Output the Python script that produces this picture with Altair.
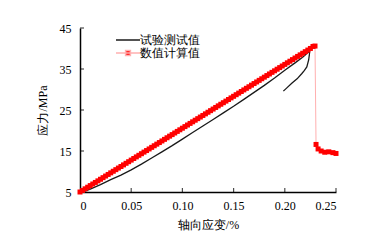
import altair as alt
import pandas as pd

# Experimental (试验测试值) curve: strain (%) and stress (MPa), in drawing order
exp_strain = [0.003, 0.010, 0.020, 0.030, 0.040, 0.050, 0.060, 0.070, 0.080, 0.090,
              0.100, 0.110, 0.120, 0.130, 0.140, 0.150, 0.160, 0.170, 0.180, 0.190,
              0.200, 0.210, 0.218, 0.222, 0.2243, 0.2240, 0.2233, 0.2215, 0.2190,
              0.2167, 0.2120, 0.2068, 0.2020, 0.1986]
exp_stress = [5.0, 5.7, 6.8, 8.0, 9.1, 10.4, 11.8, 13.3, 14.8, 16.3,
              17.9, 19.5, 21.1, 22.7, 24.3, 25.9, 27.6, 29.3, 31.0, 32.8,
              34.7, 36.5, 38.0, 38.9, 39.4, 38.5, 37.2, 35.5, 34.6,
              33.9, 32.6, 31.5, 30.4, 29.6]

# Numerical (数值计算值) series
num_strain = [0.0000, 0.0025, 0.0050, 0.0075, 0.0100, 0.0125, 0.0150, 0.0175, 0.0200, 0.0225,
              0.0250, 0.0275, 0.0300, 0.0325, 0.0350, 0.0375, 0.0400, 0.0425, 0.0450, 0.0475,
              0.0500, 0.0525, 0.0550, 0.0575, 0.0600, 0.0625, 0.0650, 0.0675, 0.0700, 0.0725,
              0.0750, 0.0775, 0.0800, 0.0825, 0.0850, 0.0875, 0.0900, 0.0925, 0.0950, 0.0975,
              0.1000, 0.1025, 0.1050, 0.1075, 0.1100, 0.1125, 0.1150, 0.1175, 0.1200, 0.1225,
              0.1250, 0.1275, 0.1300, 0.1325, 0.1350, 0.1375, 0.1400, 0.1425, 0.1450, 0.1475,
              0.1500, 0.1525, 0.1550, 0.1575, 0.1600, 0.1625, 0.1650, 0.1675, 0.1700, 0.1725,
              0.1750, 0.1775, 0.1800, 0.1825, 0.1850, 0.1875, 0.1900, 0.1925, 0.1950, 0.1975,
              0.2000, 0.2025, 0.2050, 0.2075, 0.2100, 0.2125, 0.2150, 0.2175, 0.2200, 0.2225,
              0.2250, 0.2275, 0.2295,
              0.2305, 0.2325, 0.2355, 0.2390, 0.2430, 0.2470, 0.2500]
num_stress = [5.00, 5.39, 5.78, 6.17, 6.56, 6.95, 7.33, 7.72, 8.11, 8.50,
              8.89, 9.28, 9.67, 10.06, 10.45, 10.84, 11.22, 11.61, 12.00, 12.39,
              12.78, 13.17, 13.56, 13.95, 14.34, 14.73, 15.11, 15.50, 15.89, 16.28,
              16.67, 17.06, 17.45, 17.84, 18.23, 18.62, 19.00, 19.39, 19.78, 20.17,
              20.56, 20.95, 21.34, 21.73, 22.12, 22.51, 22.89, 23.28, 23.67, 24.06,
              24.45, 24.84, 25.23, 25.62, 26.01, 26.40, 26.78, 27.17, 27.56, 27.95,
              28.34, 28.73, 29.12, 29.51, 29.90, 30.29, 30.67, 31.06, 31.45, 31.84,
              32.23, 32.62, 33.01, 33.40, 33.79, 34.18, 34.56, 34.95, 35.34, 35.73,
              36.12, 36.51, 36.90, 37.29, 37.68, 38.07, 38.45, 38.84, 39.23, 39.62,
              40.01, 40.50, 40.60,
              16.6, 15.5, 15.0, 14.7, 14.8, 14.6, 14.4]

series_names = ["试验测试值", "数值计算值"]
y_ticks = [5, 15, 25, 35, 45]
x_ticks = [0, 0.05, 0.10, 0.15, 0.20, 0.25]

W, H = 256, 164
FONT = "serif"

exp_df = pd.DataFrame({"strain": exp_strain, "stress": exp_stress,
                       "idx": range(len(exp_strain))})
num_df = pd.DataFrame({"strain": num_strain, "stress": num_stress,
                       "idx": range(len(num_strain))})
legend_df = pd.DataFrame({"series": series_names})
yt_df = pd.DataFrame({"v": y_ticks[1:]})
xt_df = pd.DataFrame({"v": x_ticks[1:]})

xscale = alt.Scale(domain=[0, 0.25], nice=False, zero=False)
yscale = alt.Scale(domain=[5, 45], nice=False, zero=False)

xaxis = alt.Axis(values=x_ticks, title="轴向应变/%", grid=False, tickSize=0,
                 labelExpr="datum.value == 0 ? '0' : format(datum.value, '.2f')",
                 labelPadding=8, titlePadding=8, labelFont=FONT, titleFont=FONT)
yaxis = alt.Axis(values=y_ticks, title="应力/MPa", grid=False, tickSize=0,
                 labelPadding=9, titlePadding=10, labelFont=FONT, titleFont=FONT)

x_enc = alt.X("strain:Q", scale=xscale, axis=xaxis)
y_enc = alt.Y("stress:Q", scale=yscale, axis=yaxis)

exp_line = alt.Chart(exp_df).mark_line(color="#1a1a1a", strokeWidth=1.3).encode(
    x=x_enc, y=y_enc, order="idx:Q")

num_line = alt.Chart(num_df).mark_line(color="#ffb0b0", strokeWidth=1).encode(
    x=alt.X("strain:Q", scale=xscale), y=alt.Y("stress:Q", scale=yscale), order="idx:Q")

num_pts = alt.Chart(num_df).mark_square(color="#ff0000", size=25, opacity=1).encode(
    x=alt.X("strain:Q", scale=xscale), y=alt.Y("stress:Q", scale=yscale))

leg = alt.Legend(title=None, orient="none", legendX=42, legendY=6,
                 symbolSize=36, symbolStrokeWidth=1.5, labelOffset=6,
                 labelFont=FONT, labelFontSize=12, labelColor="black",
                 rowPadding=1, padding=0)
legend_layer = alt.Chart(legend_df).mark_point(opacity=1).encode(
    shape=alt.Shape("series:N", legend=leg,
                    scale=alt.Scale(domain=series_names,
                                    range=["M-4,0H4",
                                           "M-4,0H4M-0.8,-0.8H0.8V0.8H-0.8Z"])),
    fill=alt.Fill("series:N", legend=leg,
                  scale=alt.Scale(domain=series_names, range=["transparent", "#ff0000"])),
    stroke=alt.Stroke("series:N", legend=leg,
                      scale=alt.Scale(domain=series_names, range=["#1a1a1a", "#ffb0b0"])),
).transform_filter("false")

ytick_layer = alt.Chart(yt_df).mark_tick(orient="horizontal", size=4, thickness=1.2,
                                          color="black").encode(
    y=alt.Y("v:Q", scale=yscale), x=alt.value(2))
xtick_layer = alt.Chart(xt_df).mark_tick(orient="vertical", size=4, thickness=1.2,
                                          color="black").encode(
    x=alt.X("v:Q", scale=xscale), y=alt.value(H - 2))

chart = alt.layer(exp_line, num_line, num_pts, ytick_layer, xtick_layer, legend_layer).properties(
    width=W, height=H,
    autosize=alt.AutoSizeParams(type="none"),
    padding={"left": 80, "top": 28, "right": 44, "bottom": 54},
    background="white",
).configure(font=FONT).configure_view(stroke=None).configure_axis(
    labelFont=FONT, titleFont=FONT, labelFontSize=12, titleFontSize=12,
    labelColor="black", titleColor="black", titleFontWeight="normal",
    domainColor="black", domainWidth=1.5,
)

chart.save("out.html", embed_options={"renderer": "svg", "actions": False})
